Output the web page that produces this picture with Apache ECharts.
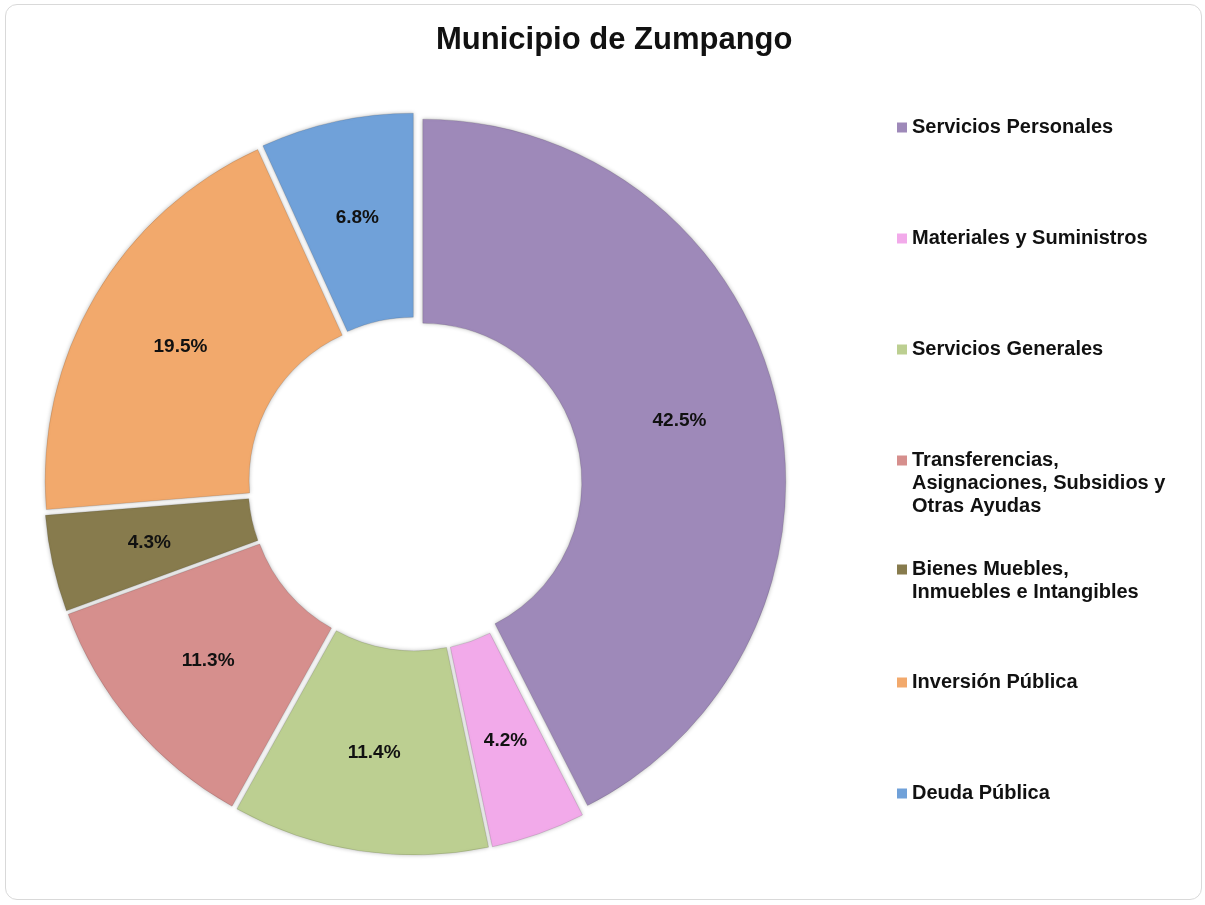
<!DOCTYPE html>
<html>
<head>
<meta charset="utf-8">
<script src="https://cdn.jsdelivr.net/npm/echarts@6/dist/echarts.min.js"></script>
<style>
  html, body { margin: 0; padding: 0; background: #fff; }
  #frame {
    position: absolute; left: 5px; top: 4px; width: 1195px; height: 894px;
    border: 1px solid #d9d9d9; border-radius: 12px;
  }
  #chart { position: absolute; left: 0; top: 0; width: 1205px; height: 905px; }
</style>
</head>
<body>
<div id="frame"></div>
<div id="chart"></div>
<script>
const categories = [
  'Servicios Personales',
  'Materiales y Suministros',
  'Servicios Generales',
  'Transferencias, Asignaciones, Subsidios y Otras Ayudas',
  'Bienes Muebles, Inmuebles e Intangibles',
  'Inversión Pública',
  'Deuda Pública',
]
const legendText = [
  'Servicios Personales',
  'Materiales y Suministros',
  'Servicios Generales',
  'Transferencias,\nAsignaciones, Subsidios y\nOtras Ayudas',
  'Bienes Muebles,\nInmuebles e Intangibles',
  'Inversión Pública',
  'Deuda Pública',
]
const shares = [42.5, 4.2, 11.4, 11.3, 4.3, 19.5, 6.8]

const palette = ['#9e89b9', '#f2aaea', '#bccf91', '#d68f8d', '#877b4d', '#f2a96c', '#70a1d9']

const chart = echarts.init(document.getElementById('chart'))

const font = 'Arial, "Liberation Sans", sans-serif'
const lineH = 23
const legendTops = [116, 227, 338, 449, 558, 671, 782]

// one legend per entry so the first lines sit on an even grid
const legends = categories.map((name, i) => {
  const lines = legendText[i].split('\n').length
  const h = lines * lineH
  const icon = lines === 1
    ? 'rect'
    : 'path://M0,6.5L10,6.5L10,16.5L0,16.5Z M0,0L0.01,0Z M0,' + h + 'L0.01,' + h + 'Z'
  return {
    data: [name],
    orient: 'vertical',
    left: 897,
    top: legendTops[i],
    padding: 0,
    icon,
    itemWidth: 10,
    itemHeight: lines === 1 ? 10 : h,
    itemGap: 0,
    selectedMode: false,
    itemStyle: { borderWidth: 0, shadowBlur: 0 },
    formatter: () => legendText[i],
    textStyle: {
      fontFamily: font,
      fontSize: 20,
      fontWeight: 'bold',
      color: '#111',
      lineHeight: lineH,
    },
  }
})

const sliceStyle = {
  borderColor: 'rgba(0,0,0,0.12)',
  borderWidth: 1,
  shadowBlur: 4,
  shadowColor: 'rgba(0,0,0,0.28)',
}

const option = {
  color: palette,
  animation: false,
  title: {
    text: 'Municipio de Zumpango',
    left: 436,
    top: 25,
    padding: 0,
    textStyle: { fontFamily: font, fontSize: 31, fontWeight: 'bold', color: '#111' },
  },
  legend: legends,
  series: [
    {
      type: 'pie',
      center: [415, 484],
      radius: [159, 363],
      startAngle: 90,
      clockwise: true,
      selectedMode: 'multiple',
      selectedOffset: 8,
      data: categories.map((name, i) => ({ name, value: shares[i], selected: true })),
      itemStyle: sliceStyle,
      select: { itemStyle: sliceStyle },
      label: {
        position: 'inside',
        formatter: (p) => p.value.toFixed(1) + '%',
        fontFamily: font,
        fontSize: 19,
        fontWeight: 'bold',
        color: '#111',
      },
      labelLine: { show: false },
      emphasis: { disabled: true },
    },
  ],
}

chart.setOption(option)
</script>
</body>
</html>
